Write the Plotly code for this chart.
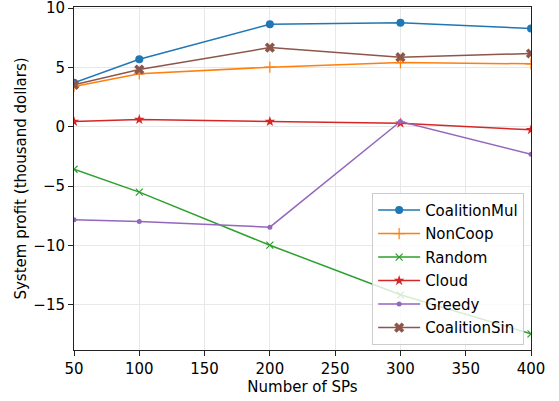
import plotly.graph_objects as go

x_sps = [50, 100, 200, 300, 400]
coalition_mul = [3.72, 5.69, 8.65, 8.77, 8.29]
non_coop = [3.40, 4.47, 5.03, 5.42, 5.31]
random_vals = [-3.57, -5.50, -9.97, -14.15, -17.44]
cloud = [0.45, 0.62, 0.45, 0.31, -0.25]
greedy = [-7.83, -7.97, -8.45, 0.45, -2.30]
coalition_sin = [3.54, 4.83, 6.68, 5.87, 6.18]

x_ticks = [50, 100, 150, 200, 250, 300, 350, 400]
y_ticks = [-15, -10, -5, 0, 5, 10]

series = [
    ("CoalitionMul", coalition_mul, "#1f77b4", dict(symbol="circle", size=8)),
    ("NonCoop", non_coop, "#ff7f0e", dict(symbol="cross-thin", size=8, line=dict(width=1.2, color="#ff7f0e"))),
    ("Random", random_vals, "#2ca02c", dict(symbol="x-thin", size=7, line=dict(width=1.2, color="#2ca02c"))),
    ("Cloud", cloud, "#d62728", dict(symbol="star", size=8)),
    ("Greedy", greedy, "#9467bd", dict(symbol="circle", size=5)),
    ("CoalitionSin", coalition_sin, "#8c564b", dict(symbol="x", size=9)),
]

fig = go.Figure()
for name, vals, color, mk in series:
    mk = dict(mk)
    mk["color"] = color
    fig.add_trace(go.Scatter(x=x_sps, y=vals, name=name, legendgroup=name, mode="lines+markers",
                             line=dict(color=color, width=1.5), marker=mk))

axis_common = dict(
    showline=True, linecolor="#222222", linewidth=1, mirror=True,
    ticks="outside", ticklen=5, tickcolor="#222222", tickwidth=1,
    showgrid=True, gridcolor="#e8e8e8", gridwidth=1, zeroline=False,
    tickfont=dict(family="DejaVu Sans", size=15, color="black"),
    automargin=False, ticklabeloverflow="allow",
)

fig.update_layout(
    width=559, height=401,
    margin=dict(l=74, r=28, t=7, b=51),
    paper_bgcolor="white", plot_bgcolor="white",
    font=dict(family="DejaVu Sans", size=15, color="black"),
    xaxis=dict(range=[50, 400], tickvals=x_ticks, **axis_common,
               title=dict(text="Number of SPs", font=dict(size=15), standoff=4)),
    yaxis=dict(range=[-18.8, 10.1], tickvals=y_ticks, **axis_common,
               title=dict(text="System profit (thousand dollars)", font=dict(size=15), standoff=3)),
    legend=dict(x=0.985, y=0.015, xanchor="right", yanchor="bottom",
                bgcolor="rgba(255,255,255,0.8)", bordercolor="#cccccc", borderwidth=1,
                font=dict(size=15), tracegroupgap=1, itemwidth=42),
    showlegend=True,
)

fig.write_html("out.html", config={"displayModeBar": False},
               post_script="document.body.style.margin='0';")
